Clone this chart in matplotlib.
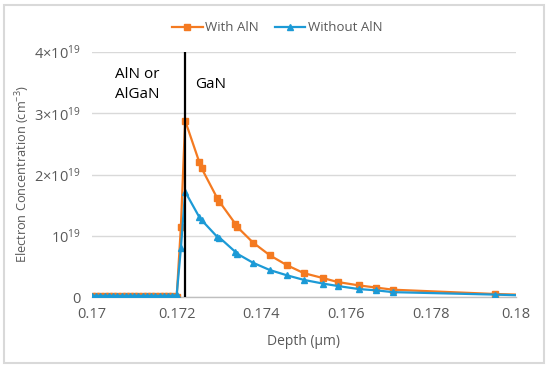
import matplotlib
matplotlib.use("Agg")
import matplotlib.pyplot as plt
from matplotlib.patches import Rectangle
from matplotlib.ticker import FixedLocator

plt.rcParams["font.family"] = ["Open Sans", "DejaVu Sans"]
plt.rcParams["mathtext.fontset"] = "custom"
plt.rcParams["mathtext.rm"] = "Open Sans"
plt.rcParams["mathtext.it"] = "Open Sans"
plt.rcParams["mathtext.default"] = "regular"

# Depth (um) grid shared by both series
depth = [0.1700, 0.1701, 0.1702, 0.1703, 0.1704, 0.1705, 0.1706, 0.1707,
         0.1708, 0.1709, 0.1710, 0.1711, 0.1712, 0.1713, 0.1714, 0.1715,
         0.1716, 0.1717, 0.1718, 0.1719, 0.1720, 0.1721, 0.1722, 0.17253,
         0.17259, 0.17296, 0.17301, 0.17338, 0.17342, 0.1738, 0.1742, 0.1746,
         0.1750, 0.17545, 0.1758, 0.1763, 0.1767, 0.1771, 0.1795, 0.1800]
# electron concentration, units of 1e19 cm^-3
with_aln = [0.01, 0.01, 0.01, 0.01, 0.01, 0.01, 0.01, 0.01, 0.01, 0.01,
            0.01, 0.01, 0.01, 0.01, 0.01, 0.01, 0.01, 0.01, 0.01, 0.01,
            0.0, 1.15, 2.88, 2.21, 2.10, 1.61, 1.555, 1.20, 1.15, 0.89,
            0.68, 0.52, 0.39, 0.31, 0.245, 0.19, 0.155, 0.12, 0.05, 0.04]
without_aln = [0.02, 0.02, 0.02, 0.02, 0.02, 0.02, 0.02, 0.02, 0.02, 0.02,
               0.02, 0.02, 0.02, 0.02, 0.02, 0.02, 0.02, 0.02, 0.02, 0.02,
               0.03, 0.80, 1.72, 1.31, 1.255, 0.98, 0.97, 0.74, 0.71, 0.56,
               0.44, 0.355, 0.28, 0.22, 0.18, 0.13, 0.11, 0.08, 0.04, 0.03]
interface = 0.1722

x_ticks = [0.170, 0.172, 0.174, 0.176, 0.178, 0.180]
x_tick_labels = ["0.17", "0.172", "0.174", "0.176", "0.178", "0.18"]
y_ticks = [0, 1, 2, 3, 4]
y_tick_labels = ["0", r"10$^{19}$", r"2×10$^{19}$", r"3×10$^{19}$", r"4×10$^{19}$"]

ORANGE = "#F47A21"
BLUE = "#1C9AD6"
GREY = "#595959"

fig = plt.figure(figsize=(5.5, 3.69), dpi=100)
ax = fig.add_axes([0.167, 0.195, 0.771, 0.664])

marks = list(range(len(depth) - 1))
ax.plot(depth, with_aln, color=ORANGE, lw=1.6, marker="s", ms=4.5,
        markevery=marks, label="With AlN", zorder=3)
ax.plot(depth, without_aln, color=BLUE, lw=1.6, marker="^", ms=5,
        markevery=marks, label="Without AlN", zorder=4)
ax.plot([interface, interface], [0, 4], color="black", lw=1.6, zorder=5)

ax.set_xlim(0.170, 0.180)
ax.set_ylim(0, 4)
ax.xaxis.set_major_locator(FixedLocator(x_ticks))
ax.set_xticklabels(x_tick_labels)
ax.yaxis.set_major_locator(FixedLocator(y_ticks))
ax.set_yticklabels(y_tick_labels)
ax.tick_params(length=0, labelsize=10.5, labelcolor=GREY)
ax.tick_params(axis="y", pad=8)
ax.tick_params(axis="x", pad=7)
ax.grid(axis="y", color="#D9D9D9", lw=1)
ax.set_axisbelow(True)
for s in ("top", "right", "left"):
    ax.spines[s].set_visible(False)
ax.spines["bottom"].set_color("#BFBFBF")
ax.spines["bottom"].set_linewidth(1)

ax.set_xlabel("Depth (µm)", fontsize=10, color=GREY, labelpad=9)
ax.set_ylabel("Electron Concentration (cm$^{-3}$)", fontsize=9.2, color=GREY)
ax.yaxis.set_label_coords(-0.142, 0.5)

ax.text(0.17054, 3.465, "AlN or\nAlGaN", fontsize=11, va="center", ha="left", linespacing=1.45)
ax.text(0.17243, 3.47, "GaN", fontsize=11, va="center", ha="left")

fig.legend(loc="center", bbox_to_anchor=(0.504, 0.925), ncol=2, frameon=False,
           fontsize=9.5, handlelength=2.3, columnspacing=1.2, handletextpad=0.2,
           labelcolor=GREY)

fig.add_artist(Rectangle((4 / 550, 6 / 369), 540 / 550, 358 / 369,
                         transform=fig.transFigure, fill=False,
                         edgecolor="#D9D9D9", lw=1.5))

fig.savefig("out.png", dpi=100)
